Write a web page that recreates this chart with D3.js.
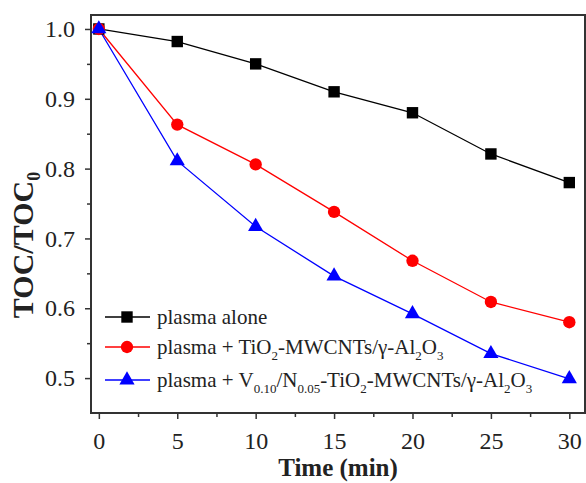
<!DOCTYPE html>
<html>
<head>
<meta charset="utf-8">
<script src="https://cdn.jsdelivr.net/npm/d3@7"></script>
<style>
  body { margin: 0; background: #fff; }
  svg text { font-family: "Liberation Serif", "Times New Roman", serif; fill: #222; }
</style>
</head>
<body>
<div id="chart"></div>
<script>
const times = [0, 5, 10, 15, 20, 25, 30];
const plasmaAlone = [1.0, 0.982, 0.95, 0.91, 0.88, 0.821, 0.78];
const plasmaTiO2 = [1.0, 0.863, 0.806, 0.738, 0.668, 0.609, 0.58];
const plasmaVN = [1.0, 0.811, 0.717, 0.646, 0.592, 0.535, 0.499];
const xTicks = [0, 5, 10, 15, 20, 25, 30];
const xMinorTicks = [2.5, 7.5, 12.5, 17.5, 22.5, 27.5];
const yTicks = [0.5, 0.6, 0.7, 0.8, 0.9, 1.0];
const yMinorTicks = [0.55, 0.65, 0.75, 0.85, 0.95];

const series = [
  { name: [["plasma alone"]], values: plasmaAlone, color: "#000000", shape: d3.symbolSquare },
  { name: [["plasma + TiO"], ["2", "sub"], ["-MWCNTs/γ-Al"], ["2", "sub"], ["O"], ["3", "sub"]],
    values: plasmaTiO2, color: "#ff0000", shape: d3.symbolCircle },
  { name: [["plasma + V"], ["0.10", "sub"], ["/N"], ["0.05", "sub"], ["-TiO"], ["2", "sub"],
           ["-MWCNTs/γ-Al"], ["2", "sub"], ["O"], ["3", "sub"]],
    values: plasmaVN, color: "#0000ff", shape: d3.symbolTriangle }
];

const width = 586,
  height = 483;
const mLeft = 91, mRight = 585, mTop = 15, mBottom = 413;
const serif = "Liberation Serif, Times New Roman, serif";

const svg = d3
  .select("#chart")
  .append("svg")
  .attr("width", width)
  .attr("height", height);

const x = d3.scaleLinear().domain([-0.5, 31]).range([mLeft, mRight]);
const y = d3.scaleLinear().domain([0.45, 1.02]).range([mBottom, mTop]);

// frame
svg
  .append("rect")
  .attr("x", mLeft)
  .attr("y", mTop)
  .attr("width", mRight - mLeft)
  .attr("height", mBottom - mTop)
  .attr("fill", "none")
  .attr("stroke", "#333")
  .attr("stroke-width", 2);

function styleAxis(g) {
  g.attr("font-family", serif);
  g.select(".domain").remove();
  g.selectAll(".tick line").attr("stroke", "#333").attr("stroke-width", 1.5);
  g.selectAll(".tick text")
    .attr("font-size", 24)
    .attr("fill", "#222")
    .style("font-family", serif);
}

svg
  .append("g")
  .attr("transform", `translate(0,${mBottom})`)
  .call(d3.axisBottom(x).tickValues(xTicks).tickSize(6).tickPadding(13).tickFormat(d3.format("d")))
  .call(styleAxis);
svg
  .append("g")
  .attr("transform", `translate(0,${mBottom})`)
  .call(d3.axisBottom(x).tickValues(xMinorTicks).tickSize(4).tickFormat(""))
  .call(styleAxis);
svg
  .append("g")
  .attr("transform", `translate(${mLeft},0)`)
  .call(d3.axisLeft(y).tickValues(yTicks).tickSize(6).tickPadding(10).tickFormat(d3.format(".1f")))
  .call(styleAxis);
svg
  .append("g")
  .attr("transform", `translate(${mLeft},0)`)
  .call(d3.axisLeft(y).tickValues(yMinorTicks).tickSize(4).tickFormat(""))
  .call(styleAxis);

// axis titles
const yTitle = svg
  .append("text")
  .attr("transform", "translate(33,245) rotate(-90)")
  .attr("text-anchor", "middle")
  .attr("font-size", 30)
  .attr("font-weight", "bold");
yTitle.append("tspan").text("TOC/TOC");
yTitle.append("tspan").attr("font-size", 18).attr("dy", 7).text("0");

svg
  .append("text")
  .attr("x", 338)
  .attr("y", 476)
  .attr("text-anchor", "middle")
  .attr("font-size", 25)
  .attr("font-weight", "bold")
  .text("Time (min)");

// lines and markers
const line = d3
  .line()
  .x((d, i) => x(times[i]))
  .y((d) => y(d));

series.forEach((s) => {
  svg
    .append("path")
    .datum(s.values)
    .attr("d", line)
    .attr("fill", "none")
    .attr("stroke", s.color)
    .attr("stroke-width", 1.3);
});

function sizeOf(shape) {
  if (shape === d3.symbolSquare) return 130;
  if (shape === d3.symbolCircle) return 120;
  return 100;
}

series.forEach((s) => {
  svg
    .append("g")
    .selectAll("path")
    .data(s.values)
    .enter()
    .append("path")
    .attr("transform", (d, i) => `translate(${x(times[i])},${y(d)})`)
    .attr("d", d3.symbol().type(s.shape).size(sizeOf(s.shape)))
    .attr("fill", s.color);
});

// legend
const legendY = [317, 347, 380];
series.forEach((s, i) => {
  const g = svg.append("g").attr("transform", `translate(0,${legendY[i]})`);
  g.append("line")
    .attr("x1", 105)
    .attr("x2", 150)
    .attr("stroke", s.color)
    .attr("stroke-width", 1.3);
  g.append("path")
    .attr("transform", "translate(127,0)")
    .attr("d", d3.symbol().type(s.shape).size(sizeOf(s.shape)))
    .attr("fill", s.color);
  const t = g
    .append("text")
    .attr("x", 157)
    .attr("y", 7)
    .attr("font-size", 21);
  let shifted = false;
  s.name.forEach(([str, kind]) => {
    const span = t.append("tspan").text(str);
    if (kind === "sub" && !shifted) {
      span.attr("font-size", 13).attr("dy", 6);
      shifted = true;
    } else if (kind !== "sub" && shifted) {
      span.attr("dy", -6);
      shifted = false;
    } else if (kind === "sub") {
      span.attr("font-size", 13);
    }
  });
});
</script>
</body>
</html>
